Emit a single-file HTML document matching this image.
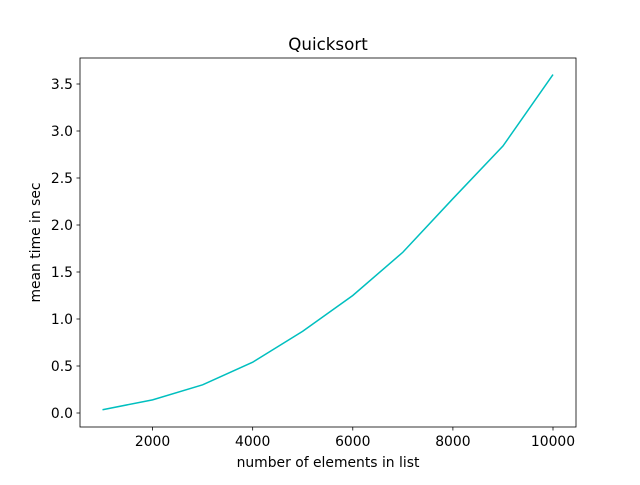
<!DOCTYPE html>
<html><head><meta charset="utf-8"><style>
body{margin:0;background:#fff}
text{font-family:"DejaVu Sans","Liberation Sans",sans-serif;fill:#000}
</style></head><body>
<svg id="chart" width="640" height="480" xmlns="http://www.w3.org/2000/svg">
<rect width="640" height="480" fill="#fff"/>
<text x="328" y="50" font-size="16.7" text-anchor="middle">Quicksort</text>
<g id="plot"></g>
<rect x="80" y="58" width="496" height="369" fill="none" stroke="#000" stroke-width="0.8"/>
<text x="328" y="467" font-size="13.9" text-anchor="middle">number of elements in list</text>
<text transform="translate(40,242.5) rotate(-90)" font-size="13.9" text-anchor="middle">mean time in sec</text>
</svg>
<script>
const sizes=[1000,2000,3000,4000,5000,6000,7000,8000,9000,10000];
const times=[0.035,0.14,0.30,0.54,0.87,1.25,1.71,2.28,2.84,3.60];
const xTicks=[2000,4000,6000,8000,10000];
const yTicks=[0.0,0.5,1.0,1.5,2.0,2.5,3.0,3.5];
const xs=v=>102.5+(v-1000)*(553-102.5)/9000;
const ys=v=>413-v*94;
const g=document.getElementById('plot');
const NS='http://www.w3.org/2000/svg';
function mk(t,a){const e=document.createElementNS(NS,t);for(const k in a)e.setAttribute(k,a[k]);g.appendChild(e);return e;}
xTicks.forEach(v=>{
 const l=mk('line',{x1:xs(v),x2:xs(v),y1:427,y2:430.5,stroke:'#000','stroke-width':0.8});
 
 
 const t=mk('text',{x:xs(v),y:446,'font-size':13.9,'text-anchor':'middle'});t.textContent=v;
 
 
});
yTicks.forEach(v=>{
 const l=mk('line',{x1:76.5,x2:80,y1:ys(v),y2:ys(v),stroke:'#000','stroke-width':0.8});
 
 
 const t=mk('text',{x:73,y:ys(v)+5,'font-size':13.9,'text-anchor':'end'});t.textContent=v.toFixed(1);
 
 
});
const p=mk('polyline',{points:sizes.map((s,i)=>xs(s)+','+ys(times[i])).join(' '),fill:'none',stroke:'#00bfbf','stroke-width':1.5});


</script>
</body></html>
